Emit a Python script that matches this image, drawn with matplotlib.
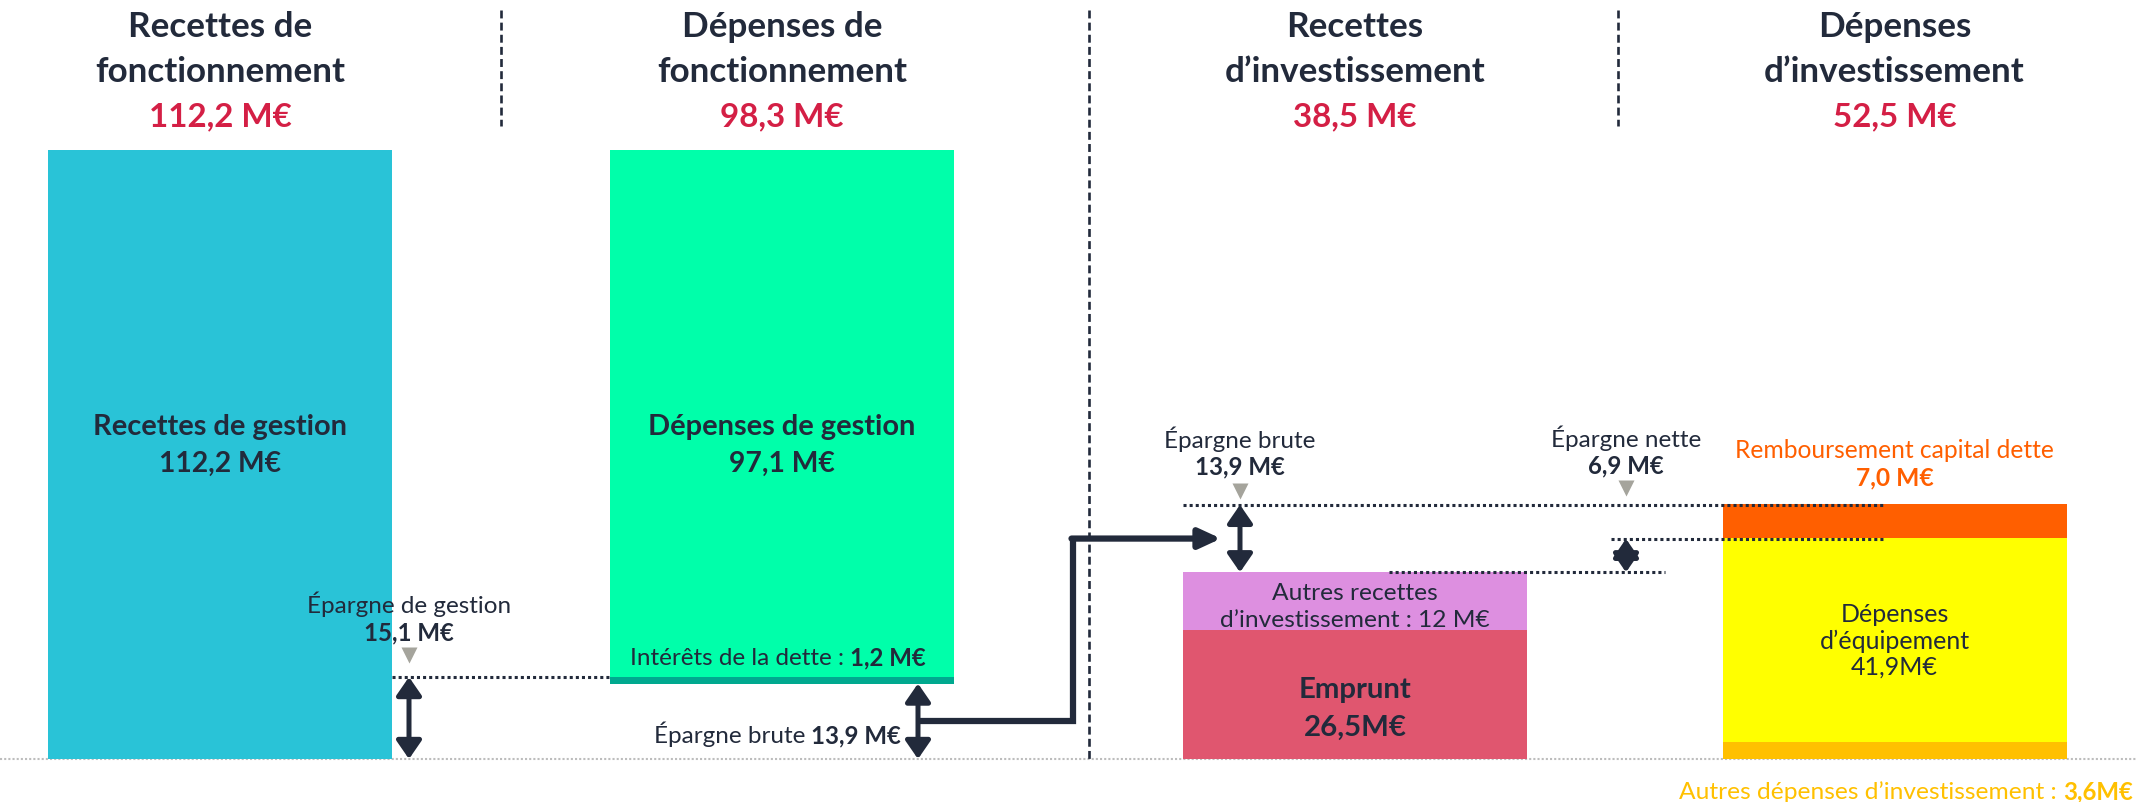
import matplotlib
matplotlib.use("Agg")
import matplotlib.pyplot as plt
from matplotlib.transforms import offset_copy

plt.rcParams['font.family'] = ['Lato', 'DejaVu Sans']

# valeurs (M€)
titres_l1 = ["Recettes de", "Dépenses de", "Recettes", "Dépenses"]
titres_l2 = ["fonctionnement", "fonctionnement", "d\u2019investissement", "d\u2019investissement"]
totaux = ["112,2 M€", "98,3 M€", "38,5 M€", "52,5 M€"]

recettes_gestion = 112.2
depenses_gestion = 97.1
interets_dette = 1.2
epargne_gestion = 15.1
epargne_brute = 13.9

emprunt = 26.5
autres_recettes_inv = 12.0
autres_depenses_inv = 3.6
depenses_equipement = 41.9
remboursement_capital = 7.0
epargne_nette = 6.9

NAVY = '#222A3B'
RED = '#D41F45'
CYAN = '#29C3D7'
GREEN = '#00FFAA'
TEAL = '#00A98F'
ROSE = '#E0566F'
VIOLET = '#DD8FE0'
ORANGE = '#FF5F00'
YELLOW = '#FFFF00'
AMBER = '#FFC000'
GRIS = '#A5A49C'

W, H = 2136, 803
fig = plt.figure(figsize=(W / 100, H / 100), dpi=100)
renderer = fig.canvas.get_renderer()


def taille(s, largeur, weight='normal'):
    """taille de police pour que le texte fasse `largeur` px"""
    t = fig.text(0, 0, s, fontsize=20, fontweight=weight)
    w = t.get_window_extent(renderer).width
    t.remove()
    return 20 * largeur / w


FS_TITRE = taille("fonctionnement", 250, 'bold')
FS_TOTAL = taille("112,2 M€", 143, 'bold')
FS_BARRE = taille("Recettes de gestion", 255, 'bold')
FS_BARRE_NUM = taille("112,2 M€", 122, 'bold')
FS_PETIT = taille("Épargne de gestion", 205)
FS_PETIT_B = taille("15,1 M€", 90, 'bold')
FS_INV = taille("d\u2019investissement : 12 M€", 270)
FS_EMPRUNT = taille("Emprunt", 113, 'bold')
FS_EQUIP = taille("d\u2019équipement", 151)
FS_REMB = taille("Remboursement capital dette", 321)
FS_AUTRES = taille("Autres dépenses d\u2019investissement : ", 384)
FS_AUTRES_B = taille("3,6M€", 70, 'bold')

# deux échelles : fonctionnement (gauche) et investissement (droite)
BASE = 760  # ligne de base en px depuis le haut
ax_f = fig.add_axes([0, 0, 1, 1])
ax_i = fig.add_axes([0, 0, 1, 1], sharex=ax_f)
ax_i.patch.set_visible(False)
top_f = 140.0
top_i = 156.7
ax_f.set_ylim(-top_f * (H - BASE) / BASE, top_f)
ax_i.set_ylim(-top_i * (H - BASE) / BASE, top_i)
ax_f.set_xlim(0, W)
for a in (ax_f, ax_i):
    a.axis('off')

xc = [220, 782, 1355, 1894.5]
bw = 344


def fpx(x, y):
    return x / W, 1 - y / H


def ftext(x, y, s, **kw):
    kw.setdefault('color', NAVY)
    return fig.text(*fpx(x, y), s, ha=kw.pop('ha', 'center'), va='baseline', **kw)


def double_arrow(ax, x, y0, y1):
    ax.annotate('', xy=(x, y1), xytext=(x, y0),
                arrowprops=dict(arrowstyle='<|-|>,head_length=0.55,head_width=0.38',
                                color=NAVY, lw=3.6, shrinkA=0, shrinkB=0,
                                mutation_scale=20), zorder=6)


def triangle(ax, x, y, dy):
    tr = offset_copy(ax.transData, fig=fig, x=0, y=dy, units='dots')
    ax.plot([x], [y], marker='v', ms=11.5, color=GRIS, mec='none', transform=tr, zorder=6)


def dotted(ax, x0, x1, y):
    ax.plot([x0, x1], [y, y], color=NAVY, lw=2.2, ls=(0, (1, 1)), zorder=5)


def label(ax, x, y, dy, txt, ha='center', **kw):
    kw.setdefault('color', NAVY)
    kw.setdefault('fontsize', FS_PETIT)
    return ax.annotate(txt, xy=(x, y), xytext=(0, dy), textcoords='offset pixels',
                       ha=ha, va='baseline', **kw)


# titres
for i in range(4):
    ftext(xc[i], 37, titres_l1[i], fontsize=FS_TITRE, fontweight='bold')
    ftext(xc[i], 82, titres_l2[i], fontsize=FS_TITRE, fontweight='bold')
    ftext(xc[i], 126, totaux[i], fontsize=FS_TOTAL, fontweight='bold', color=RED)

# séparateurs
for x, y1 in [(501, 127), (1089, BASE), (1618, 127)]:
    fig.add_artist(plt.Line2D([x / W, x / W], [1 - 11 / H, 1 - y1 / H], color=NAVY,
                              lw=1.9, ls=(0, (3, 1.6)), transform=fig.transFigure))

# ligne de base
ax_f.axhline(0, color='#BDBDBD', lw=1.5, ls=(0, (1, 1)), zorder=1)

# --- fonctionnement ---
ax_f.bar(xc[0], recettes_gestion, width=bw, color=CYAN, zorder=2)
ax_f.bar(xc[1], interets_dette, bottom=epargne_brute, width=bw, color=TEAL, zorder=2)
ax_f.bar(xc[1], depenses_gestion, bottom=epargne_brute + interets_dette, width=bw,
         color=GREEN, zorder=2)

ftext(xc[0], 435, "Recettes de gestion", fontsize=FS_BARRE, fontweight='bold')
ftext(xc[0], 472, "112,2 M€", fontsize=FS_BARRE_NUM, fontweight='bold')
ftext(xc[1], 435, "Dépenses de gestion", fontsize=FS_BARRE, fontweight='bold')
ftext(xc[1], 472, "97,1 M€", fontsize=FS_BARRE_NUM, fontweight='bold')

# intérêts
y_int = epargne_brute + interets_dette
t1 = label(ax_f, 630, y_int, 13, "Intérêts de la dette : ", ha='left')
ax_f.annotate("1,2 M€", xy=(1, 0), xycoords=t1, ha='left', va='bottom',
              fontsize=FS_PETIT_B, fontweight='bold', color=NAVY)

# épargne de gestion
x_eg = 409
dotted(ax_f, xc[0] + bw / 2, xc[1] - bw / 2, epargne_gestion)
double_arrow(ax_f, x_eg, 0, epargne_gestion)
triangle(ax_f, x_eg, epargne_gestion, 22)
label(ax_f, x_eg, epargne_gestion, 65, "Épargne de gestion")
label(ax_f, x_eg, epargne_gestion, 38, "15,1 M€", fontsize=FS_PETIT_B, fontweight='bold')

# épargne brute (fonctionnement)
x_eb = 918
double_arrow(ax_f, x_eb, 0, epargne_brute)
t2 = ax_f.annotate("13,9 M€", xy=(901, 0), xytext=(0, 17),
                   textcoords='offset pixels', ha='right', va='baseline',
                   fontsize=FS_PETIT_B, fontweight='bold', color=NAVY)
ax_f.annotate("Épargne brute ", xy=(0, 0), xycoords=t2, ha='right', va='bottom',
              fontsize=FS_PETIT, color=NAVY)

# --- investissement ---
tot_rec_inv = emprunt + autres_recettes_inv
ax_i.bar(xc[2], emprunt, width=bw, color=ROSE, zorder=2)
ax_i.bar(xc[2], autres_recettes_inv, bottom=emprunt, width=bw, color=VIOLET, zorder=2)
ax_i.bar(xc[3], autres_depenses_inv, width=bw, color=AMBER, zorder=2)
ax_i.bar(xc[3], depenses_equipement, bottom=autres_depenses_inv, width=bw,
         color=YELLOW, zorder=2)
ax_i.bar(xc[3], remboursement_capital, bottom=autres_depenses_inv + depenses_equipement,
         width=bw, color=ORANGE, zorder=2)

y_emp = emprunt / 2
label(ax_i, xc[2], y_emp, -2, "Emprunt", fontsize=FS_EMPRUNT, fontweight='bold')
label(ax_i, xc[2], y_emp, -40, "26,5M€", fontsize=FS_EMPRUNT, fontweight='bold')
y_ari = emprunt + autres_recettes_inv / 2
label(ax_i, xc[2], y_ari, 2, "Autres recettes", fontsize=FS_INV)
label(ax_i, xc[2], y_ari, -25, "d\u2019investissement : 12 M€", fontsize=FS_INV)
y_eq = autres_depenses_inv + depenses_equipement / 2
label(ax_i, xc[3], y_eq, 19, "Dépenses", fontsize=FS_EQUIP)
label(ax_i, xc[3], y_eq, -8, "d\u2019équipement", fontsize=FS_EQUIP)
label(ax_i, xc[3], y_eq, -34, "41,9M€", fontsize=FS_EQUIP)

y_top4 = autres_depenses_inv + depenses_equipement + remboursement_capital
label(ax_i, xc[3], y_top4, 47, "Remboursement capital dette", color=ORANGE, fontsize=FS_REMB)
label(ax_i, xc[3], y_top4, 20, "7,0 M€", color=ORANGE, fontsize=FS_REMB, fontweight='bold')

# épargnes brute et nette
y_brute = tot_rec_inv + epargne_brute
y_nette = tot_rec_inv + epargne_nette
x_bi, x_ni = 1240, 1626
dotted(ax_i, xc[2] - bw / 2, 1885, y_brute)
dotted(ax_i, 1611, 1885, y_nette)
dotted(ax_i, 1389, 1665, tot_rec_inv)
double_arrow(ax_i, x_bi, tot_rec_inv, y_brute)
double_arrow(ax_i, x_ni, tot_rec_inv, y_nette)
triangle(ax_i, x_bi, y_brute, 14)
triangle(ax_i, x_ni, y_brute, 17)
label(ax_i, x_bi, y_brute, 58, "Épargne brute")
label(ax_i, x_bi, y_brute, 31, "13,9 M€", fontsize=FS_PETIT_B, fontweight='bold')
label(ax_i, x_ni, y_brute, 59, "Épargne nette")
label(ax_i, x_ni, y_brute, 32, "6,9 M€", fontsize=FS_PETIT_B, fontweight='bold')

# flèche de liaison épargne brute -> investissement
x0, y0 = ax_i.transData.inverted().transform(ax_f.transData.transform((x_eb, epargne_brute / 2)))
y1 = tot_rec_inv + epargne_brute / 2
x_coude = 1073
ax_i.plot([x0, x_coude, x_coude], [y0, y0, y1], color=NAVY, lw=4.5,
          solid_joinstyle='miter', solid_capstyle='butt', zorder=4)
ax_i.annotate('', xy=(1221, y1), xytext=(x_coude - 1.5, y1),
              arrowprops=dict(arrowstyle='-|>,head_length=0.65,head_width=0.3',
                              color=NAVY, lw=4.5, shrinkA=0, shrinkB=0,
                              mutation_scale=20), zorder=4)

# autres dépenses d'investissement
t3 = ftext(2133, 799, "3,6M€", ha='right', fontsize=FS_AUTRES_B, fontweight='bold', color=AMBER)
ax_i.annotate("Autres dépenses d\u2019investissement : ", xy=(0, 0), xycoords=t3,
              ha='right', va='bottom', fontsize=FS_AUTRES, color=AMBER,
              annotation_clip=False)
plt.savefig("out.png", dpi=100)
